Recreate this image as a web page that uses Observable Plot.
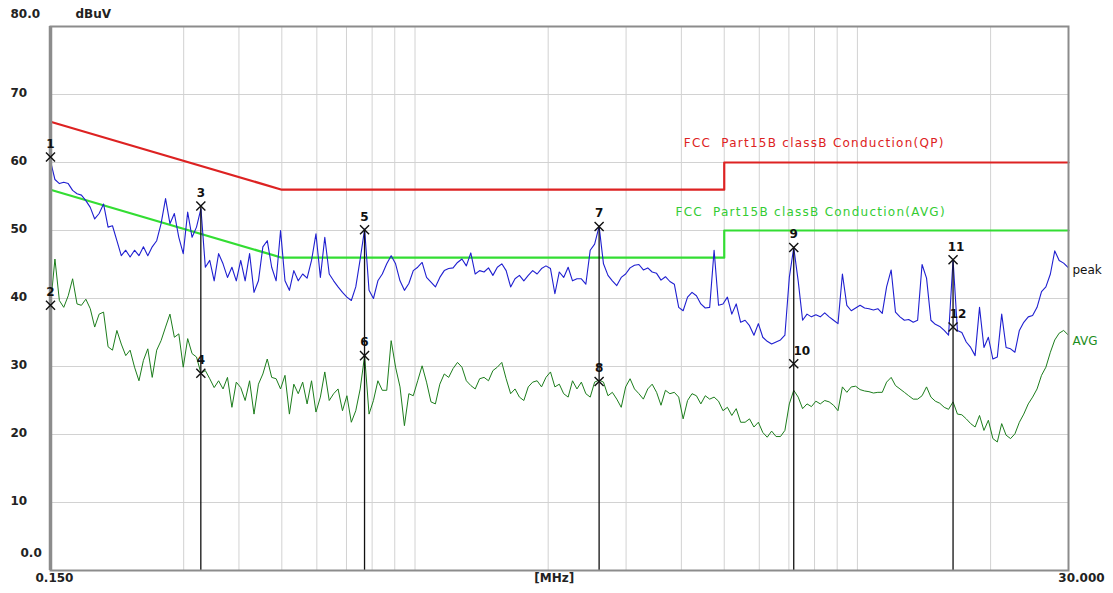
<!DOCTYPE html>
<html><head><meta charset="utf-8">
<script src="https://cdn.jsdelivr.net/npm/d3@7"></script>
<script src="https://cdn.jsdelivr.net/npm/@observablehq/plot@0.6"></script>
<style>body{margin:0;background:#fff;} svg{display:block}</style>
</head><body><div id="chart"></div>
<script>
// Sweep frequencies (MHz)
const freqMHz = [
0.1500,0.1535,0.1571,0.1607,0.1645,0.1683,0.1722,0.1762,0.1803,0.1845,
0.1888,0.1932,0.1977,0.2024,0.2071,0.2119,0.2168,0.2219,0.2270,0.2323,
0.2377,0.2433,0.2489,0.2547,0.2607,0.2667,0.2730,0.2793,0.2858,0.2925,
0.2993,0.3063,0.3134,0.3207,0.3282,0.3358,0.3436,0.3516,0.3598,0.3682,
0.3768,0.3856,0.3945,0.4037,0.4131,0.4228,0.4326,0.4427,0.4530,0.4635,
0.4743,0.4854,0.4967,0.5083,0.5201,0.5322,0.5446,0.5573,0.5703,0.5836,
0.5972,0.6111,0.6253,0.6399,0.6548,0.6700,0.6856,0.7016,0.7179,0.7347,
0.7518,0.7693,0.7872,0.8055,0.8243,0.8435,0.8632,0.8833,0.9038,0.9249,
0.9464,0.9685,0.9910,1.0141,1.0377,1.0619,1.0867,1.1120,1.1379,1.1644,
1.1915,1.2192,1.2476,1.2767,1.3064,1.3369,1.3680,1.3999,1.4325,1.4659,
1.500,1.535,1.571,1.607,1.645,1.683,1.722,1.762,1.803,1.845,
1.888,1.932,1.977,2.024,2.071,2.119,2.168,2.219,2.270,2.323,
2.377,2.433,2.489,2.547,2.607,2.667,2.730,2.793,2.858,2.925,
2.993,3.063,3.134,3.207,3.282,3.358,3.436,3.516,3.598,3.682,
3.768,3.856,3.945,4.037,4.131,4.228,4.326,4.427,4.530,4.635,
4.743,4.854,4.967,5.083,5.201,5.322,5.446,5.573,5.703,5.836,
5.972,6.111,6.253,6.399,6.548,6.700,6.856,7.016,7.179,7.347,
7.518,7.693,7.872,8.055,8.243,8.435,8.632,8.833,9.038,9.249,
9.464,9.685,9.910,10.14,10.38,10.62,10.87,11.12,11.38,11.64,
11.92,12.19,12.48,12.77,13.06,13.37,13.68,14.00,14.33,14.66,
15.00,15.35,15.71,16.07,16.45,16.83,17.22,17.62,18.03,18.45,
18.88,19.32,19.77,20.24,20.71,21.19,21.68,22.19,22.70,23.23,
23.77,24.33,24.89,25.47,26.07,26.67,27.30,27.93,28.58,29.25,
30.00];

// Peak detector trace (dBuV)
const peak = [
60.2,57.5,56.9,57.1,56.9,55.9,55.4,55.2,54.4,53.4,
51.7,52.5,53.9,50.5,50.7,48.5,46.3,47.1,46.1,47.1,
46.3,47.6,46.3,47.6,48.5,51.0,54.7,51.0,52.5,49.0,
46.6,52.7,49.0,50.5,53.2,44.6,45.6,42.6,46.6,45.1,
43.1,44.6,42.6,45.6,42.6,46.6,40.9,42.6,47.6,48.5,
44.6,42.6,50.0,42.6,41.2,44.1,42.6,43.6,43.0,45.6,
49.5,43.1,49.0,43.6,42.6,41.7,40.9,40.2,39.7,41.7,
45.8,50.2,41.2,40.0,42.6,43.6,45.1,46.3,45.1,42.6,
41.2,42.2,44.1,44.6,45.3,43.1,42.4,41.7,43.1,44.1,
44.4,44.5,45.3,45.8,44.8,46.7,43.6,44.1,43.9,44.5,
43.4,44.6,45.1,44.1,41.7,42.9,43.4,42.6,43.4,44.1,
43.6,44.4,44.8,44.4,40.7,43.9,43.1,44.6,42.6,42.9,
42.9,42.1,47.1,48.0,50.6,45.1,43.4,42.6,41.9,43.1,
43.6,44.5,44.9,45.0,44.2,44.5,43.9,43.7,42.7,43.2,
42.5,42.1,38.7,38.2,40.2,40.9,40.4,39.2,38.6,38.7,
47.1,39.0,39.2,40.2,37.7,39.2,36.5,36.8,36.0,34.6,
36.3,34.3,33.7,33.3,33.6,33.9,34.6,43.1,47.5,42.6,
36.8,37.7,37.3,37.6,37.3,37.9,37.3,36.8,36.3,43.6,
39.0,38.2,38.6,39.0,38.6,38.5,38.3,38.5,37.8,41.7,
44.2,38.0,37.3,36.8,36.9,36.5,36.8,45.0,43.0,36.8,
36.2,35.9,35.3,34.6,45.7,35.3,35.0,33.6,32.8,31.6,
38.7,32.8,34.3,31.1,31.4,37.7,32.8,32.6,32.1,35.3,
36.5,37.3,37.5,38.7,41.0,41.7,43.6,47.0,45.6,45.2,
44.5];

// Average detector trace (dBuV)
const avg = [
39.0,45.8,39.7,38.7,40.4,42.9,39.2,39.0,39.9,38.5,
35.8,37.7,38.0,32.9,32.4,35.3,33.3,31.6,32.4,29.9,
27.9,30.9,32.6,28.4,32.4,33.8,35.8,37.7,34.3,34.8,
29.9,34.1,31.9,31.4,29.0,29.4,28.2,26.9,27.9,26.7,
28.4,24.0,27.7,26.9,25.0,27.9,23.0,27.4,28.9,31.1,
28.4,28.2,26.7,28.7,23.0,27.4,26.0,27.7,24.5,27.9,
23.3,25.5,29.2,25.0,26.0,26.7,23.5,25.7,21.8,23.5,
26.7,31.6,23.0,25.0,27.9,26.5,26.5,33.8,29.9,27.0,
21.3,26.0,25.7,27.9,30.1,27.7,24.8,24.5,27.4,28.9,
28.4,29.7,30.6,29.9,27.9,27.2,26.7,28.2,28.4,27.9,
29.4,29.9,30.6,28.2,26.0,26.7,25.5,25.0,27.0,27.7,
27.9,27.0,28.4,29.2,27.0,27.4,26.0,25.5,27.9,26.7,
27.7,26.0,25.5,27.7,28.0,27.7,25.7,26.2,25.2,24.0,
27.0,28.2,26.7,26.0,25.2,26.7,27.4,26.2,24.3,26.5,
26.0,26.2,25.5,22.3,25.0,26.0,25.7,24.5,25.7,25.2,
25.5,24.9,23.5,24.0,22.8,23.8,21.8,21.8,22.3,21.1,
21.8,20.3,19.6,20.5,19.7,19.7,20.6,24.5,26.5,25.5,
23.8,24.5,24.1,24.9,24.5,25.0,24.8,24.3,23.5,27.0,
26.2,27.0,27.1,26.6,26.4,26.3,26.1,26.2,26.2,27.7,
28.4,27.2,26.7,26.2,25.7,25.2,25.2,25.7,27.0,25.5,
24.9,24.6,24.0,23.7,24.8,23.0,22.9,22.3,21.6,21.1,
22.8,20.6,22.1,19.4,18.9,21.6,19.9,19.4,20.1,21.8,
23.0,24.5,25.5,26.7,28.7,29.9,32.1,33.9,34.9,35.3,
34.6];

// Limit lines
const limitFreq = [0.15, 0.5, 5, 5, 30];
const qpLimit   = [66, 56, 56, 60, 60];
const avLimit   = [56, 46, 46, 50, 50];
const qpLabel = "FCC  Part15B classB Conduction(QP)";
const avLabel = "FCC  Part15B classB Conduction(AVG)";

// Markers
const markerNo    = [1,2,3,4,5,6,7,8,9,10,11,12];
const markerFreq  = [0.15,0.15,0.328,0.328,0.769,0.769,2.607,2.607,7.179,7.179,16.45,16.45];
const markerLevel = [60.8,39.0,53.6,29.0,50.1,31.6,50.6,27.8,47.5,30.4,45.7,35.8];

// Axes
const yTicks = [0,10,20,30,40,50,60,70,80];
const yTickLabels = ["0.0","10","20","30","40","50","60","70","80.0"];
const xGrid = [0.3,0.4,0.5,0.6,0.7,0.8,0.9,1,2,3,4,5,6,7,8,9,10,20];
const xLabels = ["0.150","[MHz]","30.000"];
const xLabelFreq = [0.15, 2, 30];

const peakRows = freqMHz.map((f,i)=>({f, v: peak[i]}));
const avgRows  = freqMHz.map((f,i)=>({f, v: avg[i]}));
const qpRows = limitFreq.map((f,i)=>({f, v: qpLimit[i]}));
const avRows = limitFreq.map((f,i)=>({f, v: avLimit[i]}));
const markers = markerNo.map((n,i)=>({n, f: markerFreq[i], v: markerLevel[i]}));
const oddMarkers = markers.filter(d => d.n % 2 === 1 && d.f > 0.15);
const yRows = yTicks.map((t,i)=>({t, s: yTickLabels[i]}));
const xRows = xLabels.map((s,i)=>({s, f: xLabelFreq[i]}));

const F = "DejaVu Sans";
const gridColor = "#d2d2d2";
const markText = (filter, dx) => Plot.text(markers.filter(filter), {
  x: "f", y: "v", text: d => String(d.n), dy: -13, dx, fill: "#111", fontSize: 12, fontWeight: "bold"});

const chart = Plot.plot({
  width: 1113, height: 593,
  marginLeft: 50, marginRight: 45, marginTop: 26, marginBottom: 23,
  style: {fontFamily: F, fontSize: "12px", background: "#fff", overflow: "visible"},
  x: {type: "log", domain: [0.15, 30], axis: null},
  y: {domain: [0, 80], axis: null},
  marks: [
    Plot.ruleY(yTicks.filter(t => t > 0 && t < 80), {stroke: gridColor, strokeWidth: 1}),
    Plot.ruleX(xGrid, {stroke: gridColor, strokeWidth: 1}),
    Plot.line(qpRows, {x: "f", y: "v", stroke: "#dd2222", strokeWidth: 2.2}),
    Plot.line(avRows, {x: "f", y: "v", stroke: "#33dd33", strokeWidth: 2.2}),
    Plot.line(avgRows, {x: "f", y: "v", stroke: "#1c7d1c", strokeWidth: 1}),
    Plot.line(peakRows, {x: "f", y: "v", stroke: "#1f1fd0", strokeWidth: 1.1}),
    Plot.ruleX(oddMarkers, {x: "f", y1: 0, y2: "v", stroke: "#111", strokeWidth: 1.3}),
    Plot.frame({stroke: "#8c8c8c", strokeWidth: 2}),
    Plot.ruleX([0.15], {stroke: "#8c8c8c", strokeWidth: 3.5}),
    Plot.dot(markers, {x: "f", y: "v", symbol: "times", r: 4.2, stroke: "#111", strokeWidth: 1.4}),
    markText(d => d.n < 10, 0),
    markText(d => d.n === 10, 8),
    markText(d => d.n === 11, 3),
    markText(d => d.n === 12, 5),
    // limit labels
    Plot.text([qpLabel], {x: [4.05], y: [62.8], text: d => d, textAnchor: "start", fill: "#dd2222", fontSize: 12}),
    Plot.text([avLabel], {x: [3.88], y: [52.65], text: d => d, textAnchor: "start", fill: "#33cc33", fontSize: 12}),
    Plot.text(["peak"], {x: [30], y: [44.1], text: d => d, textAnchor: "start", dx: 4, fill: "#111", fontSize: 12}),
    Plot.text(["AVG"], {x: [30], y: [33.8], text: d => d, textAnchor: "start", dx: 4, fill: "#1c8d1c", fontSize: 12}),
    // y labels
    Plot.text(yRows.filter(d => d.t > 0 && d.t < 80), {y: "t", text: "s", frameAnchor: "left", dx: -40, dy: -1, textAnchor: "start", fill: "#222", fontWeight: "bold"}),
    Plot.text(yRows.filter(d => d.t === 80), {y: "t", text: "s", frameAnchor: "left", dx: -40, dy: -12, textAnchor: "start", fill: "#222", fontWeight: "bold"}),
    Plot.text(yRows.filter(d => d.t === 0), {y: "t", text: "s", frameAnchor: "left", dx: -30, dy: -17, textAnchor: "start", fill: "#222", fontWeight: "bold"}),
    Plot.text(["dBuV"], {y: [80], text: d => d, frameAnchor: "left", dx: 25, dy: -12, textAnchor: "start", fill: "#222", fontWeight: "bold"}),
    // x labels
    Plot.text(xRows.filter(d => d.s === "0.150"), {x: "f", text: "s", frameAnchor: "bottom", dy: 11, dx: 4, fill: "#222", fontWeight: "bold"}),
    Plot.text(xRows.filter(d => d.s === "[MHz]"), {x: "f", text: "s", frameAnchor: "bottom", dy: 11, dx: 6, fill: "#222", fontWeight: "bold"}),
    Plot.text(xRows.filter(d => d.s === "30.000"), {x: "f", text: "s", frameAnchor: "bottom", dy: 11, dx: 13, fill: "#222", fontWeight: "bold"})
  ]
});
document.getElementById("chart").appendChild(chart);

// letter spacing of the limit-line captions
d3.select(chart).selectAll("text").each(function() {
  if (this.textContent.startsWith("FCC")) d3.select(this).attr("letter-spacing", "1.25px");
});
</script>
</body></html>
